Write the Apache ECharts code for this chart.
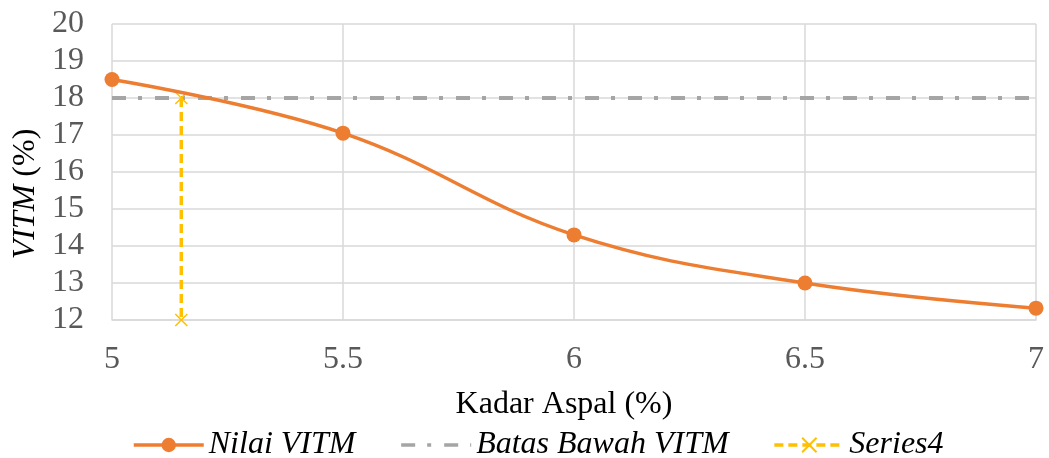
<!DOCTYPE html>
<html>
<head>
<meta charset="utf-8">
<script src="https://cdn.jsdelivr.net/npm/echarts@6/dist/echarts.min.js"></script>
<style>
  html, body { margin: 0; padding: 0; background: #fff; }
  #main { width: 1049px; height: 458px; }
</style>
</head>
<body>
<div id="main"></div>
<script>
// data
var kadarAspal = [5, 5.5, 6, 6.5, 7];
var nilaiVITM = [18.5, 17.05, 14.3, 13.0, 12.32];
var batasX = [5, 7];
var batasY = [18, 18];
var series4X = [5.15, 5.15];
var series4Y = [18, 12];

function pairs(xs, ys) {
    return xs.map(function (x, i) { return [x, ys[i]]; });
}

var font = '"Liberation Serif", "Times New Roman", serif';
var xMark = 'path://M0,0L10,10M10,0L0,10';

var myChart = echarts.init(document.getElementById('main'));
myChart.setOption({
    animation: false,
    grid: { left: 112, right: 13, top: 24, bottom: 138 },
    xAxis: {
        type: 'value',
        min: 5,
        max: 7,
        interval: 0.5,
        name: 'Kadar Aspal (%)',
        nameLocation: 'middle',
        nameGap: 69,
        nameTextStyle: { fontFamily: font, fontSize: 32, color: '#000', padding: [0, 20, 0, 0] },
        axisLine: { show: true, lineStyle: { color: '#d9d9d9', width: 1.5 } },
        axisTick: { show: false },
        axisLabel: { fontFamily: font, fontSize: 32, color: '#595959', margin: 24 },
        splitLine: { show: true, lineStyle: { color: '#d9d9d9', width: 1.5 } }
    },
    yAxis: {
        type: 'value',
        min: 12,
        max: 20,
        interval: 1,
        name: '{i|VITM} (%)',
        nameLocation: 'middle',
        nameRotate: 90,
        nameGap: 68,
        nameTextStyle: {
            fontFamily: font, fontSize: 32, color: '#000', padding: [0, 44, 0, 0],
            rich: { i: { fontFamily: font, fontSize: 32, fontStyle: 'italic', color: '#000' } }
        },
        axisLine: { show: false },
        axisTick: { show: false },
        axisLabel: { fontFamily: font, fontSize: 32, color: '#595959', margin: 28 },
        splitLine: { show: true, lineStyle: { color: '#d9d9d9', width: 1.5 } }
    },
    legend: {
        top: 424,
        left: 127,
        itemWidth: 70,
        itemHeight: 18,
        itemGap: 44,
        lineStyle: { width: 3.5 },
        textStyle: { fontFamily: font, fontSize: 32, fontStyle: 'italic', color: '#000' },
        data: ['Nilai VITM', 'Batas Bawah VITM', 'Series4']
    },
    series: [
        {
            name: 'Batas Bawah VITM',
            type: 'line',
            data: pairs(batasX, batasY),
            symbol: 'circle',
            symbolSize: 0,
            lineStyle: { color: '#a5a5a5', width: 4, type: [14, 12, 4, 13] },
            itemStyle: { color: '#a5a5a5', opacity: 0 },
            z: 2
        },
        {
            name: 'Series4',
            type: 'line',
            data: pairs(series4X, series4Y),
            symbol: xMark,
            symbolSize: 12,
            lineStyle: { color: '#ffc000', width: 3.5, type: [9, 5] },
            itemStyle: { color: '#ffc000', borderColor: '#ffc000', borderWidth: 1.5 },
            z: 3
        },
        {
            name: 'Nilai VITM',
            type: 'line',
            data: pairs(kadarAspal, nilaiVITM),
            smooth: 0.4,
            symbol: 'circle',
            symbolSize: 15,
            lineStyle: { color: '#ed7d31', width: 3.5 },
            itemStyle: { color: '#ed7d31' },
            z: 4
        }
    ]
});
</script>
</body>
</html>
